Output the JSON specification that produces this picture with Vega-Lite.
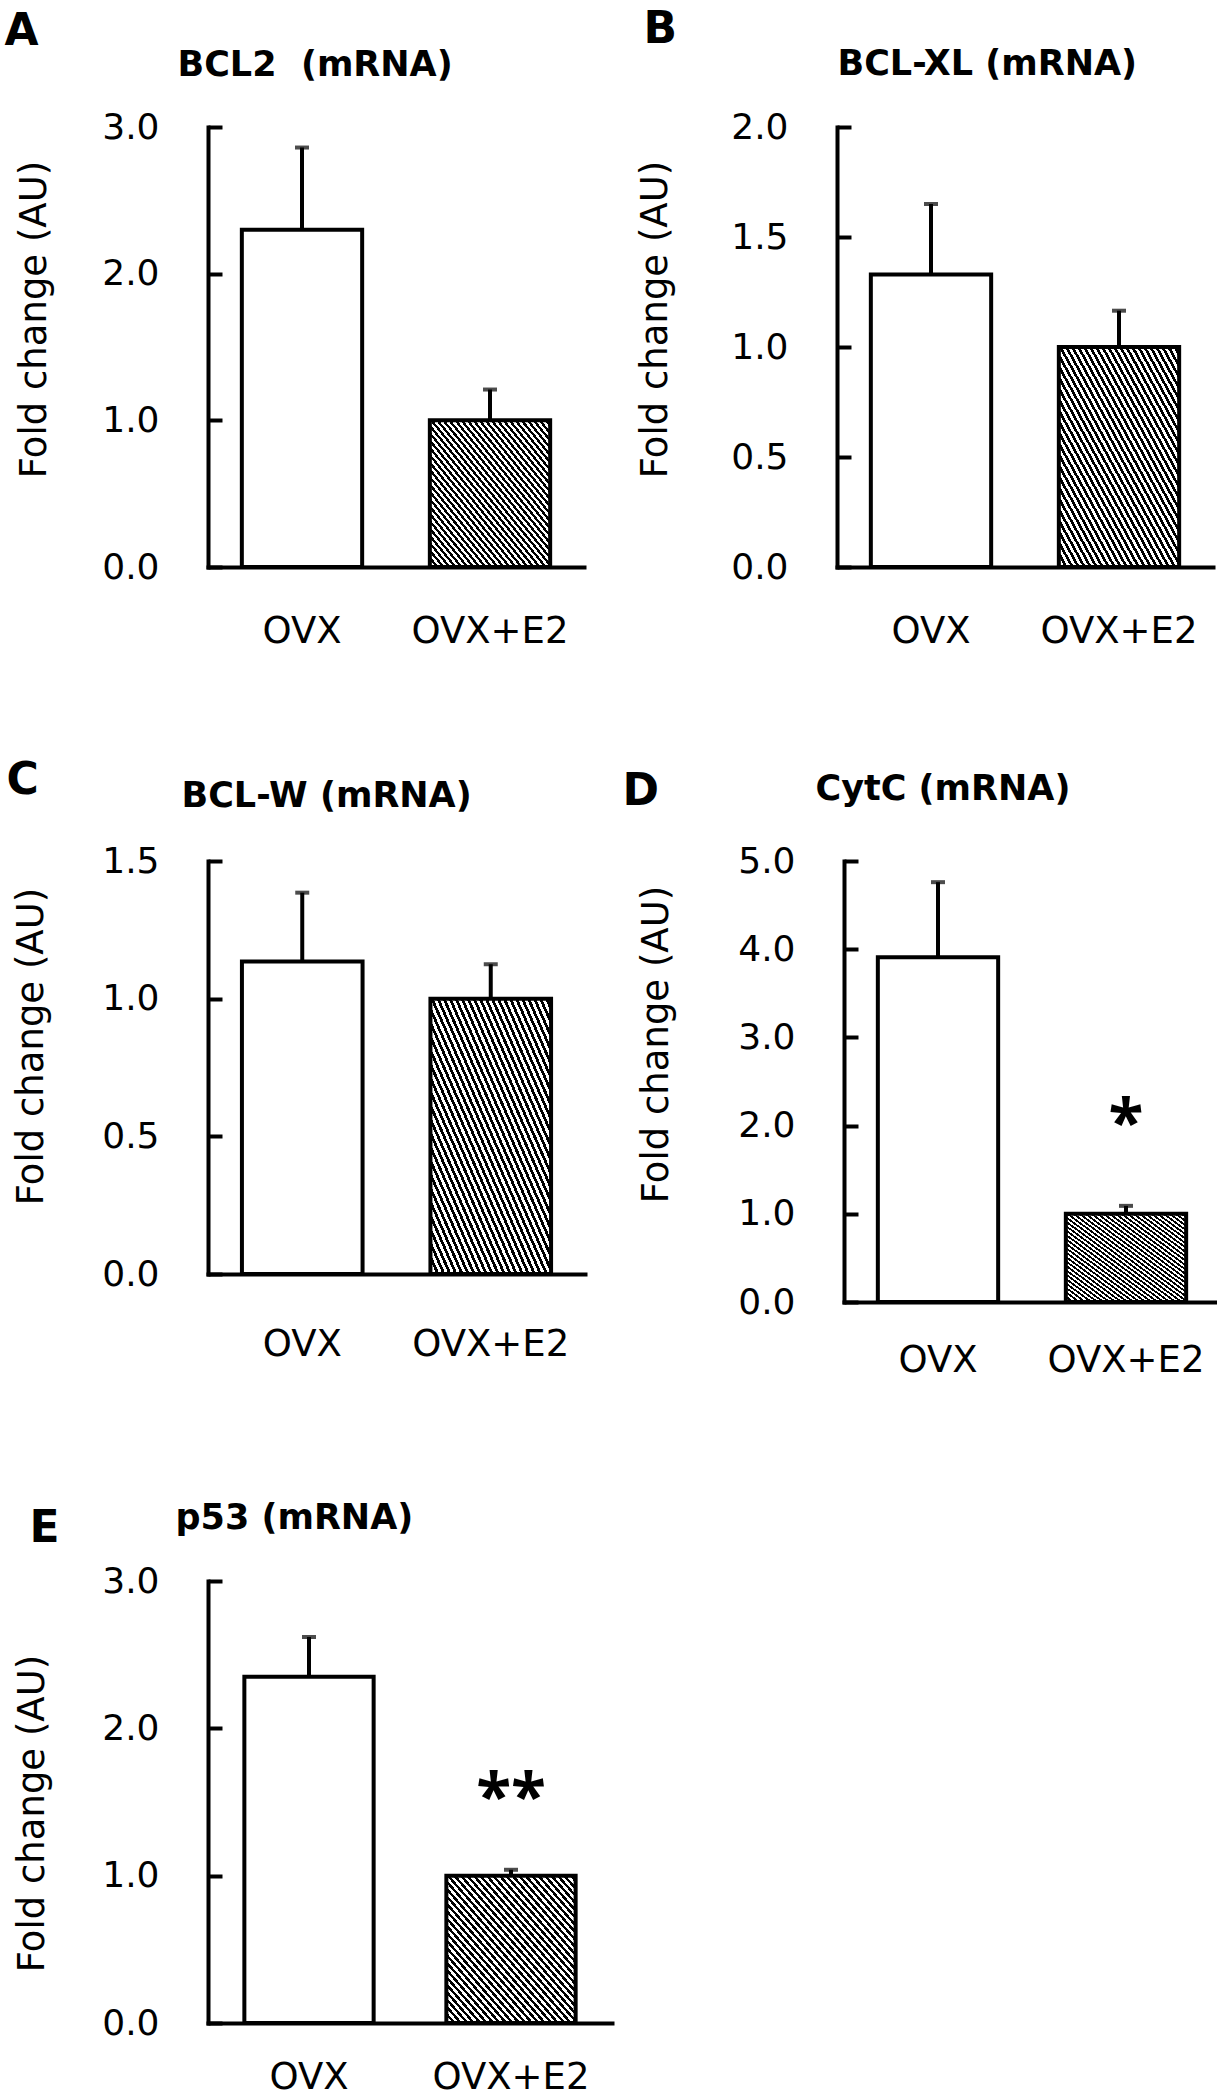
{
  "$schema": "https://vega.github.io/schema/vega-lite/v6.json",
  "background": "white",
  "padding": {"left": 4, "top": 7, "right": 0, "bottom": 4},
  "datasets": {
    "A": [{"group": "OVX", "value": 2.30, "upper": 2.86}, {"group": "OVX+E2", "value": 1.00, "upper": 1.21}],
    "B": [{"group": "OVX", "value": 1.33, "upper": 1.65}, {"group": "OVX+E2", "value": 1.00, "upper": 1.165}],
    "C": [{"group": "OVX", "value": 1.135, "upper": 1.385}, {"group": "OVX+E2", "value": 1.00, "upper": 1.125}],
    "D": [{"group": "OVX", "value": 3.91, "upper": 4.76}, {"group": "OVX+E2", "value": 1.00, "upper": 1.09, "star": "*", "star_y": 2.14}],
    "E": [{"group": "OVX", "value": 2.35, "upper": 2.62}, {"group": "OVX+E2", "value": 1.00, "upper": 1.04, "star": "**", "star_y": 1.63}]
  },
  "config": {
    "font": "DejaVu Sans",
    "view": {"stroke": null},
    "axis": {"grid": false, "domainColor": "black", "domainWidth": 4, "domainCap": "square", "labelColor": "black", "titleColor": "black", "labelFont": "DejaVu Sans", "titleFont": "DejaVu Sans", "tickColor": "black", "tickWidth": 4, "labelFontWeight": "normal"},
    "style": {
      "hatch": {
        "color": {"gradient": "linear", "x1": 0, "y1": 1, "x2": 1, "y2": 0, "stops": [
          {"offset": 0, "color": "#000"}, {"offset": 0.0125, "color": "#000"}, {"offset": 0.0125, "color": "#fff"}, {"offset": 0.025, "color": "#fff"},
          {"offset": 0.025, "color": "#000"}, {"offset": 0.0375, "color": "#000"}, {"offset": 0.0375, "color": "#fff"}, {"offset": 0.05, "color": "#fff"},
          {"offset": 0.05, "color": "#000"}, {"offset": 0.0625, "color": "#000"}, {"offset": 0.0625, "color": "#fff"}, {"offset": 0.075, "color": "#fff"},
          {"offset": 0.075, "color": "#000"}, {"offset": 0.0875, "color": "#000"}, {"offset": 0.0875, "color": "#fff"}, {"offset": 0.1, "color": "#fff"},
          {"offset": 0.1, "color": "#000"}, {"offset": 0.1125, "color": "#000"}, {"offset": 0.1125, "color": "#fff"}, {"offset": 0.125, "color": "#fff"},
          {"offset": 0.125, "color": "#000"}, {"offset": 0.1375, "color": "#000"}, {"offset": 0.1375, "color": "#fff"}, {"offset": 0.15, "color": "#fff"},
          {"offset": 0.15, "color": "#000"}, {"offset": 0.1625, "color": "#000"}, {"offset": 0.1625, "color": "#fff"}, {"offset": 0.175, "color": "#fff"},
          {"offset": 0.175, "color": "#000"}, {"offset": 0.1875, "color": "#000"}, {"offset": 0.1875, "color": "#fff"}, {"offset": 0.2, "color": "#fff"},
          {"offset": 0.2, "color": "#000"}, {"offset": 0.2125, "color": "#000"}, {"offset": 0.2125, "color": "#fff"}, {"offset": 0.225, "color": "#fff"},
          {"offset": 0.225, "color": "#000"}, {"offset": 0.2375, "color": "#000"}, {"offset": 0.2375, "color": "#fff"}, {"offset": 0.25, "color": "#fff"},
          {"offset": 0.25, "color": "#000"}, {"offset": 0.2625, "color": "#000"}, {"offset": 0.2625, "color": "#fff"}, {"offset": 0.275, "color": "#fff"},
          {"offset": 0.275, "color": "#000"}, {"offset": 0.2875, "color": "#000"}, {"offset": 0.2875, "color": "#fff"}, {"offset": 0.3, "color": "#fff"},
          {"offset": 0.3, "color": "#000"}, {"offset": 0.3125, "color": "#000"}, {"offset": 0.3125, "color": "#fff"}, {"offset": 0.325, "color": "#fff"},
          {"offset": 0.325, "color": "#000"}, {"offset": 0.3375, "color": "#000"}, {"offset": 0.3375, "color": "#fff"}, {"offset": 0.35, "color": "#fff"},
          {"offset": 0.35, "color": "#000"}, {"offset": 0.3625, "color": "#000"}, {"offset": 0.3625, "color": "#fff"}, {"offset": 0.375, "color": "#fff"},
          {"offset": 0.375, "color": "#000"}, {"offset": 0.3875, "color": "#000"}, {"offset": 0.3875, "color": "#fff"}, {"offset": 0.4, "color": "#fff"},
          {"offset": 0.4, "color": "#000"}, {"offset": 0.4125, "color": "#000"}, {"offset": 0.4125, "color": "#fff"}, {"offset": 0.425, "color": "#fff"},
          {"offset": 0.425, "color": "#000"}, {"offset": 0.4375, "color": "#000"}, {"offset": 0.4375, "color": "#fff"}, {"offset": 0.45, "color": "#fff"},
          {"offset": 0.45, "color": "#000"}, {"offset": 0.4625, "color": "#000"}, {"offset": 0.4625, "color": "#fff"}, {"offset": 0.475, "color": "#fff"},
          {"offset": 0.475, "color": "#000"}, {"offset": 0.4875, "color": "#000"}, {"offset": 0.4875, "color": "#fff"}, {"offset": 0.5, "color": "#fff"},
          {"offset": 0.5, "color": "#000"}, {"offset": 0.5125, "color": "#000"}, {"offset": 0.5125, "color": "#fff"}, {"offset": 0.525, "color": "#fff"},
          {"offset": 0.525, "color": "#000"}, {"offset": 0.5375, "color": "#000"}, {"offset": 0.5375, "color": "#fff"}, {"offset": 0.55, "color": "#fff"},
          {"offset": 0.55, "color": "#000"}, {"offset": 0.5625, "color": "#000"}, {"offset": 0.5625, "color": "#fff"}, {"offset": 0.575, "color": "#fff"},
          {"offset": 0.575, "color": "#000"}, {"offset": 0.5875, "color": "#000"}, {"offset": 0.5875, "color": "#fff"}, {"offset": 0.6, "color": "#fff"},
          {"offset": 0.6, "color": "#000"}, {"offset": 0.6125, "color": "#000"}, {"offset": 0.6125, "color": "#fff"}, {"offset": 0.625, "color": "#fff"},
          {"offset": 0.625, "color": "#000"}, {"offset": 0.6375, "color": "#000"}, {"offset": 0.6375, "color": "#fff"}, {"offset": 0.65, "color": "#fff"},
          {"offset": 0.65, "color": "#000"}, {"offset": 0.6625, "color": "#000"}, {"offset": 0.6625, "color": "#fff"}, {"offset": 0.675, "color": "#fff"},
          {"offset": 0.675, "color": "#000"}, {"offset": 0.6875, "color": "#000"}, {"offset": 0.6875, "color": "#fff"}, {"offset": 0.7, "color": "#fff"},
          {"offset": 0.7, "color": "#000"}, {"offset": 0.7125, "color": "#000"}, {"offset": 0.7125, "color": "#fff"}, {"offset": 0.725, "color": "#fff"},
          {"offset": 0.725, "color": "#000"}, {"offset": 0.7375, "color": "#000"}, {"offset": 0.7375, "color": "#fff"}, {"offset": 0.75, "color": "#fff"},
          {"offset": 0.75, "color": "#000"}, {"offset": 0.7625, "color": "#000"}, {"offset": 0.7625, "color": "#fff"}, {"offset": 0.775, "color": "#fff"},
          {"offset": 0.775, "color": "#000"}, {"offset": 0.7875, "color": "#000"}, {"offset": 0.7875, "color": "#fff"}, {"offset": 0.8, "color": "#fff"},
          {"offset": 0.8, "color": "#000"}, {"offset": 0.8125, "color": "#000"}, {"offset": 0.8125, "color": "#fff"}, {"offset": 0.825, "color": "#fff"},
          {"offset": 0.825, "color": "#000"}, {"offset": 0.8375, "color": "#000"}, {"offset": 0.8375, "color": "#fff"}, {"offset": 0.85, "color": "#fff"},
          {"offset": 0.85, "color": "#000"}, {"offset": 0.8625, "color": "#000"}, {"offset": 0.8625, "color": "#fff"}, {"offset": 0.875, "color": "#fff"},
          {"offset": 0.875, "color": "#000"}, {"offset": 0.8875, "color": "#000"}, {"offset": 0.8875, "color": "#fff"}, {"offset": 0.9, "color": "#fff"},
          {"offset": 0.9, "color": "#000"}, {"offset": 0.9125, "color": "#000"}, {"offset": 0.9125, "color": "#fff"}, {"offset": 0.925, "color": "#fff"},
          {"offset": 0.925, "color": "#000"}, {"offset": 0.9375, "color": "#000"}, {"offset": 0.9375, "color": "#fff"}, {"offset": 0.95, "color": "#fff"},
          {"offset": 0.95, "color": "#000"}, {"offset": 0.9625, "color": "#000"}, {"offset": 0.9625, "color": "#fff"}, {"offset": 0.975, "color": "#fff"},
          {"offset": 0.975, "color": "#000"}, {"offset": 0.9875, "color": "#000"}, {"offset": 0.9875, "color": "#fff"}, {"offset": 1, "color": "#fff"}
        ]}
      }
    }
  },
  "align": "none",
  "spacing": 109,
  "vconcat": [
    {
      "align": "none",
      "spacing": 52,
      "hconcat": [
        {
          "width": 376, "height": 440,
          "data": {"name": "A"},
          "resolve": {"axis": {"x": "independent"}},
          "layer": [
            {"transform": [{"filter": "datum.group == 'OVX'"}],
             "mark": {"type": "bar", "fill": "white", "stroke": "black", "strokeWidth": 4},
             "encoding": {
               "x": {"field": "group", "type": "nominal", "scale": {"domain": ["OVX", "OVX+E2"], "paddingInner": 0.36, "paddingOuter": 0.18},
                     "axis": {"orient": "bottom", "labelAngle": 0, "labelFontSize": 37, "labelPadding": 75, "labelBaseline": "alphabetic", "ticks": false, "tickSize": 0,
                              "title": "A", "titleX": -204, "titleY": -523, "titleAlign": "left", "titleBaseline": "alphabetic", "titleAngle": 0, "titleFontSize": 44, "titleFontWeight": "bold"}},
               "y": {"field": "value", "type": "quantitative", "scale": {"domain": [0, 3], "nice": false, "zero": true},
                     "axis": {"values": [0, 1, 2, 3], "format": ".1f", "labelFontSize": 36, "labelPadding": 63, "tickSize": -14,
                              "title": "Fold change (AU)", "titleX": -174, "titleY": 192, "titleAngle": 270, "titleAlign": "center", "titleBaseline": "middle", "titleFontSize": 37, "titleFontWeight": "normal"}}
             }},
            {"transform": [{"filter": "datum.group == 'OVX+E2'"}],
             "mark": {"type": "bar", "style": "hatch", "stroke": "black", "strokeWidth": 4},
             "encoding": {
               "x": {"field": "group", "type": "nominal", "axis": {"orient": "top", "labels": false, "ticks": false, "domain": false, "title": "BCL2\u00a0\u00a0(mRNA)", "titleX": -31, "titleY": -52, "titleAlign": "left", "titleBaseline": "alphabetic", "titleAngle": 0, "titleFontSize": 35, "titleFontWeight": "bold"}},
               "y": {"field": "value", "type": "quantitative"}
             }},
            {"mark": {"type": "rule", "color": "black", "strokeWidth": 4},
             "encoding": {"x": {"field": "group", "type": "nominal", "axis": null}, "y": {"field": "value", "type": "quantitative"}, "y2": {"field": "upper"}}},
            {"mark": {"type": "tick", "color": "black", "thickness": 4, "size": 14},
             "encoding": {"x": {"field": "group", "type": "nominal", "axis": null}, "y": {"field": "upper", "type": "quantitative"}}}
          ]
        },
        {
          "width": 376, "height": 440,
          "data": {"name": "B"},
          "resolve": {"axis": {"x": "independent"}},
          "layer": [
            {"transform": [{"filter": "datum.group == 'OVX'"}],
             "mark": {"type": "bar", "fill": "white", "stroke": "black", "strokeWidth": 4},
             "encoding": {
               "x": {"field": "group", "type": "nominal", "scale": {"domain": ["OVX", "OVX+E2"], "paddingInner": 0.36, "paddingOuter": 0.18},
                     "axis": {"orient": "bottom", "labelAngle": 0, "labelFontSize": 37, "labelPadding": 75, "labelBaseline": "alphabetic", "ticks": false, "tickSize": 0,
                              "title": "B", "titleX": -194, "titleY": -525, "titleAlign": "left", "titleBaseline": "alphabetic", "titleAngle": 0, "titleFontSize": 44, "titleFontWeight": "bold"}},
               "y": {"field": "value", "type": "quantitative", "scale": {"domain": [0, 2], "nice": false, "zero": true},
                     "axis": {"values": [0, 0.5, 1, 1.5, 2], "format": ".1f", "labelFontSize": 36, "labelPadding": 63, "tickSize": -14,
                              "title": "Fold change (AU)", "titleX": -182, "titleY": 192, "titleAngle": 270, "titleAlign": "center", "titleBaseline": "middle", "titleFontSize": 37, "titleFontWeight": "normal"}}
             }},
            {"transform": [{"filter": "datum.group == 'OVX+E2'"}],
             "mark": {"type": "bar", "style": "hatch", "stroke": "black", "strokeWidth": 4},
             "encoding": {
               "x": {"field": "group", "type": "nominal", "axis": {"orient": "top", "labels": false, "ticks": false, "domain": false, "title": "BCL-XL (mRNA)", "titleX": 0, "titleY": -53, "titleAlign": "left", "titleBaseline": "alphabetic", "titleAngle": 0, "titleFontSize": 35, "titleFontWeight": "bold"}},
               "y": {"field": "value", "type": "quantitative"}
             }},
            {"mark": {"type": "rule", "color": "black", "strokeWidth": 4},
             "encoding": {"x": {"field": "group", "type": "nominal", "axis": null}, "y": {"field": "value", "type": "quantitative"}, "y2": {"field": "upper"}}},
            {"mark": {"type": "tick", "color": "black", "thickness": 4, "size": 14},
             "encoding": {"x": {"field": "group", "type": "nominal", "axis": null}, "y": {"field": "upper", "type": "quantitative"}}}
          ]
        }
      ]
    },
    {
      "align": "none",
      "spacing": 122,
      "vconcat": [
        {
          "align": "none",
          "spacing": 37,
          "hconcat": [
            {
              "width": 377, "height": 413,
              "data": {"name": "C"},
              "resolve": {"axis": {"x": "independent"}},
              "layer": [
                {"transform": [{"filter": "datum.group == 'OVX'"}],
                 "mark": {"type": "bar", "fill": "white", "stroke": "black", "strokeWidth": 4},
                 "encoding": {
                   "x": {"field": "group", "type": "nominal", "scale": {"domain": ["OVX", "OVX+E2"], "paddingInner": 0.36, "paddingOuter": 0.18},
                         "axis": {"orient": "bottom", "labelAngle": 0, "labelFontSize": 37, "labelPadding": 81, "labelBaseline": "alphabetic", "ticks": false, "tickSize": 0,
                                  "title": "C", "titleX": -202, "titleY": -481, "titleAlign": "left", "titleBaseline": "alphabetic", "titleAngle": 0, "titleFontSize": 44, "titleFontWeight": "bold"}},
                   "y": {"field": "value", "type": "quantitative", "scale": {"domain": [0, 1.5], "nice": false, "zero": true},
                         "axis": {"values": [0, 0.5, 1, 1.5], "format": ".1f", "labelFontSize": 36, "labelPadding": 63, "tickSize": -14,
                                  "title": "Fold change (AU)", "titleX": -177, "titleY": 185, "titleAngle": 270, "titleAlign": "center", "titleBaseline": "middle", "titleFontSize": 37, "titleFontWeight": "normal"}}
                 }},
                {"transform": [{"filter": "datum.group == 'OVX+E2'"}],
                 "mark": {"type": "bar", "style": "hatch", "stroke": "black", "strokeWidth": 4},
                 "encoding": {
                   "x": {"field": "group", "type": "nominal", "axis": {"orient": "top", "labels": false, "ticks": false, "domain": false, "title": "BCL-W (mRNA)", "titleX": -27, "titleY": -55, "titleAlign": "left", "titleBaseline": "alphabetic", "titleAngle": 0, "titleFontSize": 35, "titleFontWeight": "bold"}},
                   "y": {"field": "value", "type": "quantitative"}
                 }},
                {"mark": {"type": "rule", "color": "black", "strokeWidth": 4},
                 "encoding": {"x": {"field": "group", "type": "nominal", "axis": null}, "y": {"field": "value", "type": "quantitative"}, "y2": {"field": "upper"}}},
                {"mark": {"type": "tick", "color": "black", "thickness": 4, "size": 14},
                 "encoding": {"x": {"field": "group", "type": "nominal", "axis": null}, "y": {"field": "upper", "type": "quantitative"}}}
              ]
            },
            {
              "width": 376, "height": 441,
              "data": {"name": "D"},
              "resolve": {"axis": {"x": "independent"}},
              "layer": [
                {"transform": [{"filter": "datum.group == 'OVX'"}],
                 "mark": {"type": "bar", "fill": "white", "stroke": "black", "strokeWidth": 4},
                 "encoding": {
                   "x": {"field": "group", "type": "nominal", "scale": {"domain": ["OVX", "OVX+E2"], "paddingInner": 0.36, "paddingOuter": 0.18},
                         "axis": {"orient": "bottom", "labelAngle": 0, "labelFontSize": 37, "labelPadding": 69, "labelBaseline": "alphabetic", "ticks": false, "tickSize": 0,
                                  "title": "D", "titleX": -222, "titleY": -498, "titleAlign": "left", "titleBaseline": "alphabetic", "titleAngle": 0, "titleFontSize": 44, "titleFontWeight": "bold"}},
                   "y": {"field": "value", "type": "quantitative", "scale": {"domain": [0, 5], "nice": false, "zero": true},
                         "axis": {"values": [0, 1, 2, 3, 4, 5], "format": ".1f", "labelFontSize": 36, "labelPadding": 63, "tickSize": -14,
                                  "title": "Fold change (AU)", "titleX": -188, "titleY": 183, "titleAngle": 270, "titleAlign": "center", "titleBaseline": "middle", "titleFontSize": 37, "titleFontWeight": "normal"}}
                 }},
                {"transform": [{"filter": "datum.group == 'OVX+E2'"}],
                 "mark": {"type": "bar", "style": "hatch", "stroke": "black", "strokeWidth": 4},
                 "encoding": {
                   "x": {"field": "group", "type": "nominal", "axis": {"orient": "top", "labels": false, "ticks": false, "domain": false, "title": "CytC (mRNA)", "titleX": -29, "titleY": -62, "titleAlign": "left", "titleBaseline": "alphabetic", "titleAngle": 0, "titleFontSize": 35, "titleFontWeight": "bold"}},
                   "y": {"field": "value", "type": "quantitative"}
                 }},
                {"mark": {"type": "rule", "color": "black", "strokeWidth": 4},
                 "encoding": {"x": {"field": "group", "type": "nominal", "axis": null}, "y": {"field": "value", "type": "quantitative"}, "y2": {"field": "upper"}}},
                {"mark": {"type": "tick", "color": "black", "thickness": 4, "size": 14},
                 "encoding": {"x": {"field": "group", "type": "nominal", "axis": null}, "y": {"field": "upper", "type": "quantitative"}}},
                {"transform": [{"filter": "isValid(datum.star)"}],
                 "mark": {"type": "text", "font": "Open Sans", "fontSize": 64, "fontWeight": "bold", "baseline": "alphabetic", "dy": 32, "color": "black"},
                 "encoding": {"x": {"field": "group", "type": "nominal", "axis": null}, "y": {"field": "star_y", "type": "quantitative"}, "text": {"field": "star"}}}
              ]
            }
          ]
        },
        {
          "width": 404, "height": 442,
          "data": {"name": "E"},
          "resolve": {"axis": {"x": "independent"}},
          "layer": [
            {"transform": [{"filter": "datum.group == 'OVX'"}],
             "mark": {"type": "bar", "fill": "white", "stroke": "black", "strokeWidth": 4},
             "encoding": {
               "x": {"field": "group", "type": "nominal", "scale": {"domain": ["OVX", "OVX+E2"], "paddingInner": 0.36, "paddingOuter": 0.18},
                     "axis": {"orient": "bottom", "labelAngle": 0, "labelFontSize": 37, "labelPadding": 65, "labelBaseline": "alphabetic", "ticks": false, "tickSize": 0,
                              "title": "E", "titleX": -179, "titleY": -482, "titleAlign": "left", "titleBaseline": "alphabetic", "titleAngle": 0, "titleFontSize": 44, "titleFontWeight": "bold"}},
               "y": {"field": "value", "type": "quantitative", "scale": {"domain": [0, 3], "nice": false, "zero": true},
                     "axis": {"values": [0, 1, 2, 3], "format": ".1f", "labelFontSize": 36, "labelPadding": 63, "tickSize": -14,
                              "title": "Fold change (AU)", "titleX": -176, "titleY": 232, "titleAngle": 270, "titleAlign": "center", "titleBaseline": "middle", "titleFontSize": 37, "titleFontWeight": "normal"}}
             }},
            {"transform": [{"filter": "datum.group == 'OVX+E2'"}],
             "mark": {"type": "bar", "style": "hatch", "stroke": "black", "strokeWidth": 4},
             "encoding": {
               "x": {"field": "group", "type": "nominal", "axis": {"orient": "top", "labels": false, "ticks": false, "domain": false, "title": "p53 (mRNA)", "titleX": -33, "titleY": -53, "titleAlign": "left", "titleBaseline": "alphabetic", "titleAngle": 0, "titleFontSize": 35, "titleFontWeight": "bold"}},
               "y": {"field": "value", "type": "quantitative"}
             }},
            {"mark": {"type": "rule", "color": "black", "strokeWidth": 4},
             "encoding": {"x": {"field": "group", "type": "nominal", "axis": null}, "y": {"field": "value", "type": "quantitative"}, "y2": {"field": "upper"}}},
            {"mark": {"type": "tick", "color": "black", "thickness": 4, "size": 14},
             "encoding": {"x": {"field": "group", "type": "nominal", "axis": null}, "y": {"field": "upper", "type": "quantitative"}}},
            {"transform": [{"filter": "isValid(datum.star)"}],
             "mark": {"type": "text", "font": "Open Sans", "fontSize": 64, "fontWeight": "bold", "baseline": "alphabetic", "dy": 36, "color": "black"},
             "encoding": {"x": {"field": "group", "type": "nominal", "axis": null}, "y": {"field": "star_y", "type": "quantitative"}, "text": {"field": "star"}}}
          ]
        }
      ]
    }
  ]
}
